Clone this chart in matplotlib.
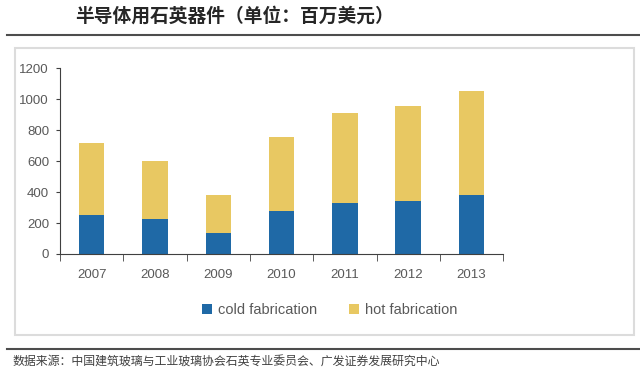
import matplotlib
matplotlib.use('Agg')
from matplotlib import pyplot as plt
from matplotlib.patches import Rectangle
from matplotlib.lines import Line2D

years = ['2007', '2008', '2009', '2010', '2011', '2012', '2013']
cold = [250, 225, 135, 275, 330, 345, 380]
hot = [470, 375, 245, 480, 580, 610, 670]
yticks = [0, 200, 400, 600, 800, 1000, 1200]

num_font = 'Liberation Sans'
cjk = ['Noto Sans CJK SC', 'DejaVu Sans']

blue = '#1f69a6'
yellow = '#e8c862'
grey = '#595959'

fig = plt.figure(figsize=(6.4, 3.75), dpi=100)
fig.patch.set_facecolor('white')

# frame around chart
fig.patches.append(Rectangle((0.0234, 0.1067), 0.9672, 0.7653, transform=fig.transFigure,
                             fill=False, edgecolor='#dcdcdc', linewidth=1.5))
# header / footer rules
fig.add_artist(Line2D([0.011, 1.0], [0.908, 0.908], transform=fig.transFigure, color='#4d4d4d', linewidth=1.5))
fig.add_artist(Line2D([0.011, 1.0], [0.069, 0.069], transform=fig.transFigure, color='#4d4d4d', linewidth=1.5))

fig.text(0.117, 0.958, '半导体用石英器件（单位：百万美元）', family=cjk, fontsize=13.5,
         fontweight='bold', color='#262626', va='center', ha='left')
fig.text(0.02, 0.035, '数据来源：中国建筑玻璃与工业玻璃协会石英专业委员会、广发证券发展研究中心',
         family=cjk, fontsize=8.6, color='#404040', va='center', ha='left')

ax = fig.add_axes([0.094, 0.3227, 0.692, 0.4953])
x = range(len(years))
ax.bar(x, cold, width=0.4, color=blue, label='cold fabrication', zorder=2)
ax.bar(x, hot, width=0.4, bottom=cold, color=yellow, label='hot fabrication', zorder=2)

ax.set_xlim(-0.5, 6.5)
ax.set_ylim(0, 1200)
ax.set_yticks(yticks)
ax.set_xticks(list(x))
ax.set_xticklabels(years)
ax.set_xticks([i - 0.5 for i in range(len(years) + 1)], minor=True)
ax.tick_params(axis='x', which='major', length=0, pad=11, labelsize=9.5, labelcolor=grey)
ax.tick_params(axis='x', which='minor', length=5, direction='out', color='#404040')
ax.tick_params(axis='y', length=3, direction='out', pad=5, labelsize=9.5, labelcolor=grey, color='#404040')
for lbl in ax.get_xticklabels() + ax.get_yticklabels():
    lbl.set_fontfamily(num_font)
for s in ['top', 'right']:
    ax.spines[s].set_visible(False)
for s in ['left', 'bottom']:
    ax.spines[s].set_color('#404040')

leg = fig.legend(loc='center', bbox_to_anchor=(0.515, 0.173), ncol=2, frameon=False,
                 handlelength=0.7, handleheight=0.7, handletextpad=0.4, columnspacing=2.2,
                 prop={'family': num_font, 'size': 10.5})
for t in leg.get_texts():
    t.set_color(grey)

fig.savefig('out.png', dpi=100)
